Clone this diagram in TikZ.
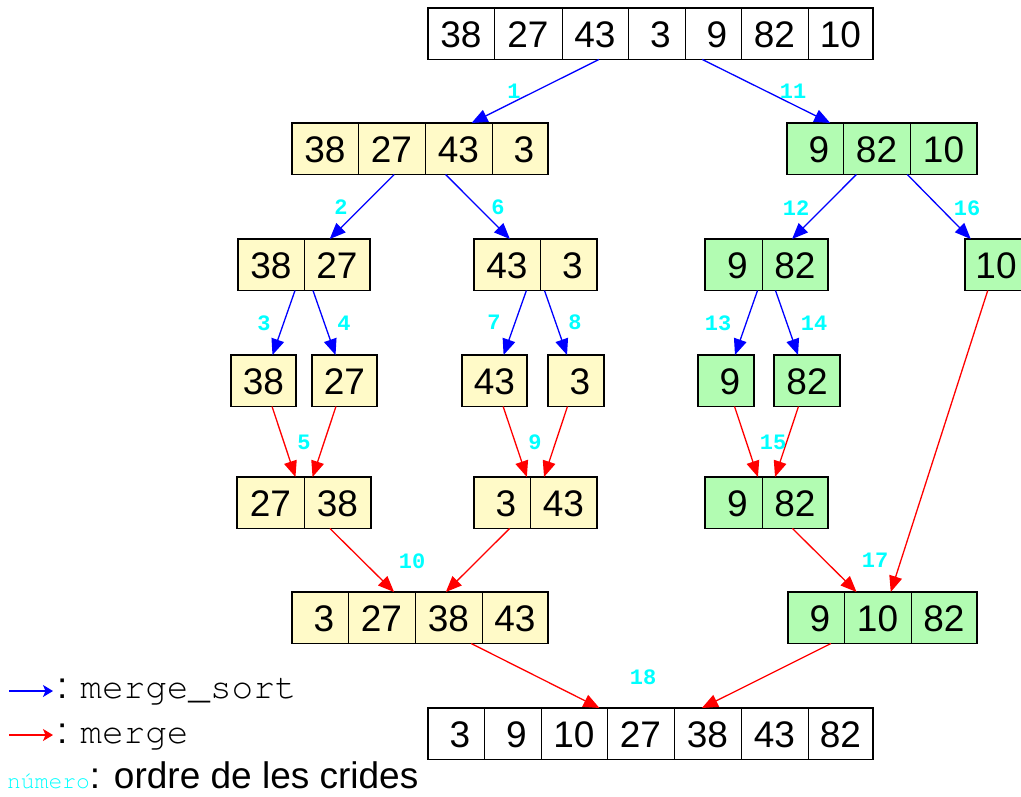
\documentclass[tikz,border=0pt]{standalone}
\usepackage[T1,TU]{fontenc}
\usepackage{fontspec}
\setmainfont{Liberation Sans}
\newfontfamily\lmono{Liberation Mono}
\newcommand\courT{\fontencoding{T1}\fontfamily{pcr}\selectfont}
\usetikzlibrary{arrows.meta}
\definecolor{recyellow}{RGB}{255,250,200}
\definecolor{recgreen}{RGB}{178,252,178}
\definecolor{numcyan}{RGB}{0,255,255}
\newcommand\cellbox[2]{\makebox[#1pt]{#2}}
\newcommand\celldiv{\hskip-0.5pt\vrule width 1pt height 39pt depth 12.5pt\hskip-0.5pt}
\newcommand\cellstrut{\vrule width 0pt height 39pt depth 12.5pt}
\newcommand\sd[1]{\hspace{8pt}#1}
\tikzset{
  rec/.style={draw=black, line width=1.5pt, inner sep=0pt, outer sep=0pt, anchor=north west,
    font=\fontsize{37}{40}\selectfont},
  ylw/.style={rec, fill=recyellow},
  grn/.style={rec, fill=recgreen},
  wht/.style={rec, fill=white},
  sortedge/.style={draw=blue, line width=1.3pt, -{Triangle[length=16pt,width=13pt]}, color=blue},
  mergeedge/.style={draw=red, line width=1.3pt, -{Triangle[length=16pt,width=13pt]}, color=red},
  num/.style={text=numcyan, font=\lmono\bfseries\fontsize{22}{23}\selectfont, inner sep=0pt},
  legarrow/.style={line width=1.3pt, -{Stealth[length=10pt,width=12pt,inset=2.5pt]}},
  legtext/.style={anchor=base west, inner sep=0pt, font=\fontsize{37}{40}\selectfont}
}
\begin{document}
\begin{tikzpicture}[x=1pt,y=-1pt]
\useasboundingbox (0,0) rectangle (1021,796);
\clip (0,0) rectangle (1021,796);
% records
\node[wht] (top) at (428,8) {\cellstrut\cellbox{66}{38}\celldiv\cellbox{68}{27}\celldiv\cellbox{66}{43}\celldiv\cellbox{57}{\sd{3}}\celldiv\cellbox{56}{\sd{9}}\celldiv\cellbox{67}{82}\celldiv\cellbox{65}{10}};
\node[ylw] (l1a) at (292,123) {\cellstrut\cellbox{66}{38}\celldiv\cellbox{67}{27}\celldiv\cellbox{67}{43}\celldiv\cellbox{56}{\sd{3}}};
\node[grn] (l1b) at (787,123) {\cellstrut\cellbox{56}{\sd{9}}\celldiv\cellbox{67}{82}\celldiv\cellbox{67}{10}};
\node[ylw] (l2a) at (238,239) {\cellstrut\cellbox{66}{38}\celldiv\cellbox{66}{27}};
\node[ylw] (l2b) at (474,239) {\cellstrut\cellbox{66}{43}\celldiv\cellbox{57}{\sd{3}}};
\node[grn] (l2c) at (705,239) {\cellstrut\cellbox{57}{\sd{9}}\celldiv\cellbox{66}{82}};
\node[grn] (l2d) at (965,239) {\cellstrut\cellbox{62}{10}};
\node[ylw] (l3a) at (231,355) {\cellstrut\cellbox{65}{38}};
\node[ylw] (l3b) at (312,355) {\cellstrut\cellbox{65}{27}};
\node[ylw] (l3c) at (462,355) {\cellstrut\cellbox{65}{43}};
\node[ylw] (l3d) at (548,355) {\cellstrut\cellbox{56}{\sd{3}}};
\node[grn] (l3e) at (698,355) {\cellstrut\cellbox{56}{\sd{9}}};
\node[grn] (l3f) at (774,355) {\cellstrut\cellbox{66}{82}};
\node[ylw] (l4a) at (237,477) {\cellstrut\cellbox{67}{27}\celldiv\cellbox{67}{38}};
\node[ylw] (l4b) at (474,477) {\cellstrut\cellbox{56}{\sd{3}}\celldiv\cellbox{67}{43}};
\node[grn] (l4c) at (705,477) {\cellstrut\cellbox{57}{\sd{9}}\celldiv\cellbox{66}{82}};
\node[ylw] (l5a) at (292,592) {\cellstrut\cellbox{56}{\sd{3}}\celldiv\cellbox{67}{27}\celldiv\cellbox{67}{38}\celldiv\cellbox{66}{43}};
\node[grn] (l5b) at (788,592) {\cellstrut\cellbox{56}{\sd{9}}\celldiv\cellbox{67}{10}\celldiv\cellbox{66}{82}};
\node[wht] (bot) at (428,708) {\cellstrut\cellbox{56}{\sd{3}}\celldiv\cellbox{57}{\sd{9}}\celldiv\cellbox{66}{10}\celldiv\cellbox{67}{27}\celldiv\cellbox{67}{38}\celldiv\cellbox{67}{43}\celldiv\cellbox{65}{82}};
% merge_sort edges
\draw[sortedge] (top) -- (l1a);
\draw[sortedge] (top) -- (l1b);
\draw[sortedge] (l1a) -- (l2a);
\draw[sortedge] (l1a) -- (l2b);
\draw[sortedge] (l2a) -- (l3a);
\draw[sortedge] (l2a) -- (l3b);
\draw[sortedge] (l2b) -- (l3c);
\draw[sortedge] (l2b) -- (l3d);
\draw[sortedge] (l1b) -- (l2c);
\draw[sortedge] (l1b) -- (l2d);
\draw[sortedge] (l2c) -- (l3e);
\draw[sortedge] (l2c) -- (l3f);
% merge edges
\draw[mergeedge] (l3a) -- (l4a);
\draw[mergeedge] (l3b) -- (l4a);
\draw[mergeedge] (l3c) -- (l4b);
\draw[mergeedge] (l3d) -- (l4b);
\draw[mergeedge] (l3e) -- (l4c);
\draw[mergeedge] (l3f) -- (l4c);
\draw[mergeedge] (l4a) -- (l5a);
\draw[mergeedge] (l4b) -- (l5a);
\draw[mergeedge] (l4c) -- (l5b);
\draw[mergeedge] (l2d) -- (l5b);
\draw[mergeedge] (l5a) -- (bot);
\draw[mergeedge] (l5b) -- (bot);
% call order numbers
\node[num] (n1) at (514,91) {1};
\node[num] (n11) at (793,91) {11};
\node[num] (n2) at (341,207) {2};
\node[num] (n6) at (498,207) {6};
\node[num] (n12) at (796,208) {12};
\node[num] (n16) at (967,208) {16};
\node[num] (n3) at (264,323) {3};
\node[num] (n4) at (344,323) {4};
\node[num] (n7) at (494,322) {7};
\node[num] (n8) at (575,322) {8};
\node[num] (n13) at (718,323) {13};
\node[num] (n14) at (814,323) {14};
\node[num] (n5) at (304,442) {5};
\node[num] (n9) at (535,442) {9};
\node[num] (n15) at (773,442) {15};
\node[num] (n10) at (412,561) {10};
\node[num] (n17) at (875,560) {17};
\node[num] (n18) at (643,677) {18};
% legend
\coordinate (lga) at (9,691);
\coordinate (lgb) at (53,691);
\draw[legarrow, blue] (lga) -- (lgb);
\node[legtext] (lg1) at (57,698) {:\hskip13pt{\courT\fontsize{36}{40}\selectfont merge\_sort}};
\coordinate (lgc) at (9,735);
\coordinate (lgd) at (53,735);
\draw[legarrow, red] (lgc) -- (lgd);
\node[legtext] (lg2) at (57,743) {:\hskip13pt{\courT\fontsize{36}{40}\selectfont merge}};
\node[legtext] (lg3) at (7,788) {{\courT\fontsize{23}{24}\selectfont\color{numcyan}número}: ordre de les crides};
\end{tikzpicture}
\end{document}
